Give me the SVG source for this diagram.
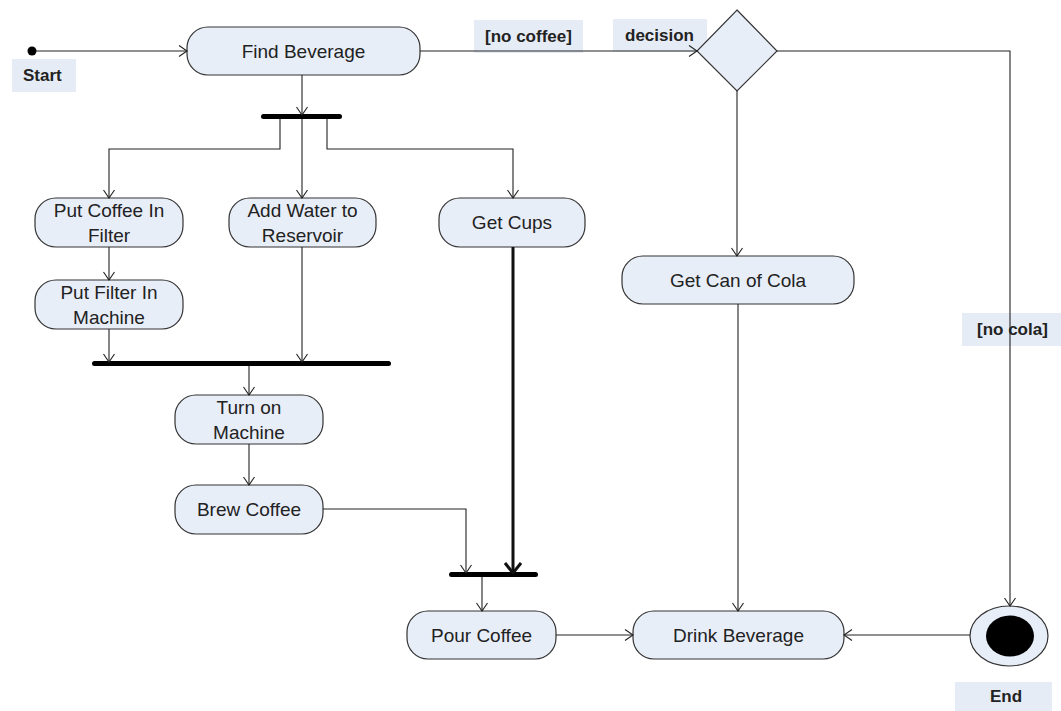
<svg xmlns="http://www.w3.org/2000/svg" width="1061" height="711" viewBox="0 0 1061 711">
<defs>
<style>
.node{fill:#E8EEF8;stroke:#333;stroke-width:1.2}
.lbl{fill:#E6ECF6;stroke:none}
.t{font-family:"Liberation Sans",Arial,sans-serif;font-size:19px;fill:#222;text-anchor:middle}
.b{font-family:"Liberation Sans",Arial,sans-serif;font-size:17px;font-weight:bold;fill:#222}
.bar{fill:#000}
.c{fill:none;stroke:#222;stroke-width:1.1}
.thick{fill:none;stroke:#111;stroke-width:3}
</style>
<marker id="arr" markerUnits="userSpaceOnUse" viewBox="0 0 10 12" refX="9" refY="6" markerWidth="10" markerHeight="12" orient="auto">
<path d="M1,0.5 L9,6 L1,11.5" fill="none" stroke="#222" stroke-width="1.1"/>
</marker>
<marker id="arrT" markerUnits="userSpaceOnUse" viewBox="0 0 12 18" refX="11" refY="9" markerWidth="12" markerHeight="18" orient="auto">
<path d="M1,1 L11,9 L1,17" fill="none" stroke="#111" stroke-width="3"/>
</marker>
</defs>
<rect width="1061" height="711" fill="#fff"/>

<g id="labels">
<rect class="lbl" x="12" y="59" width="64" height="33"/>
<text class="b" x="23" y="81">Start</text>
<rect class="lbl" x="474" y="20" width="109" height="33"/>
<text class="b" x="485" y="42">[no coffee]</text>
<rect class="lbl" x="613" y="19" width="94" height="33"/>
<text class="b" x="625" y="41">decision</text>
<rect class="lbl" x="962" y="313" width="99" height="33"/>
<text class="b" x="977" y="335">[no cola]</text>
<rect class="lbl" x="955" y="682" width="97" height="29"/>
<text class="b" x="990" y="702">End</text>
</g>

<g id="start"><circle cx="32" cy="51" r="4.5" fill="#000"/></g>

<g id="find-beverage"><rect class="node" x="187" y="27" width="233" height="48" rx="21"/><text class="t" x="303.5" y="58">Find Beverage</text></g>

<g id="decision"><polygon class="node" points="737,10 777,51 737,91 697,51"/></g>

<g id="fork-top"><rect class="bar" x="261" y="114" width="81" height="5" rx="2.5"/></g>

<g id="put-coffee"><rect class="node" x="35" y="198" width="148" height="49" rx="21"/><text class="t" x="109" y="217">Put Coffee In</text><text class="t" x="109" y="242">Filter</text></g>

<g id="add-water"><rect class="node" x="229" y="198" width="147" height="49" rx="21"/><text class="t" x="302.5" y="217">Add Water to</text><text class="t" x="302.5" y="242">Reservoir</text></g>

<g id="get-cups"><rect class="node" x="439" y="198" width="146" height="49" rx="21"/><text class="t" x="512" y="229">Get Cups</text></g>

<g id="put-filter"><rect class="node" x="35" y="280" width="148" height="49" rx="21"/><text class="t" x="109" y="299">Put Filter In</text><text class="t" x="109" y="324">Machine</text></g>

<g id="get-cola"><rect class="node" x="622" y="256" width="232" height="48" rx="21"/><text class="t" x="738" y="287">Get Can of Cola</text></g>

<g id="join-1"><rect class="bar" x="92" y="361" width="299" height="5" rx="2.5"/></g>

<g id="turn-on"><rect class="node" x="175" y="395" width="148" height="49" rx="21"/><text class="t" x="249" y="414">Turn on</text><text class="t" x="249" y="439">Machine</text></g>

<g id="brew"><rect class="node" x="175" y="485" width="148" height="49" rx="21"/><text class="t" x="249" y="516">Brew Coffee</text></g>

<g id="join-2"><rect class="bar" x="449" y="572" width="89" height="5" rx="2.5"/></g>

<g id="pour"><rect class="node" x="407" y="611" width="149" height="48" rx="21"/><text class="t" x="481.5" y="642">Pour Coffee</text></g>

<g id="drink"><rect class="node" x="633" y="611" width="211" height="48" rx="21"/><text class="t" x="738.5" y="642">Drink Beverage</text></g>

<g id="end"><ellipse class="node" cx="1009" cy="636" rx="39" ry="30"/><ellipse cx="1010" cy="636" rx="24" ry="20.5" fill="#000"/></g>

<g id="connectors">
<path class="c" d="M36,51 H187" marker-end="url(#arr)"/>
<path class="c" d="M420,51 H697" marker-end="url(#arr)"/>
<path class="c" d="M777,51 H1010 V606" marker-end="url(#arr)"/>
<path class="c" d="M737,91 V256" stroke="#555" marker-end="url(#arr)"/>
<path class="c" d="M738,304 V611" stroke="#555" marker-end="url(#arr)"/>
<path class="c" d="M970,635 H844" marker-end="url(#arr)"/>
<path class="c" d="M556,635 H633" marker-end="url(#arr)"/>
<path class="c" d="M302,75 V115" marker-end="url(#arr)"/>
<path class="c" d="M280,119 V149 H109 V198" marker-end="url(#arr)"/>
<path class="c" d="M302,119 V198" marker-end="url(#arr)"/>
<path class="c" d="M327,119 V149 H513 V198" marker-end="url(#arr)"/>
<path class="c" d="M109,247 V280" marker-end="url(#arr)"/>
<path class="c" d="M109,329 V362" marker-end="url(#arr)"/>
<path class="c" d="M302,247 V362" marker-end="url(#arr)"/>
<path class="c" d="M249,366 V395" marker-end="url(#arr)"/>
<path class="c" d="M249,444 V485" stroke="#555" marker-end="url(#arr)"/>
<path class="c" d="M323,509 H466 V573" marker-end="url(#arr)"/>
<path class="thick" d="M513,247 V573" marker-end="url(#arrT)"/>
<path class="c" d="M482,577 V611" stroke="#555" marker-end="url(#arr)"/>
</g>
</svg>
